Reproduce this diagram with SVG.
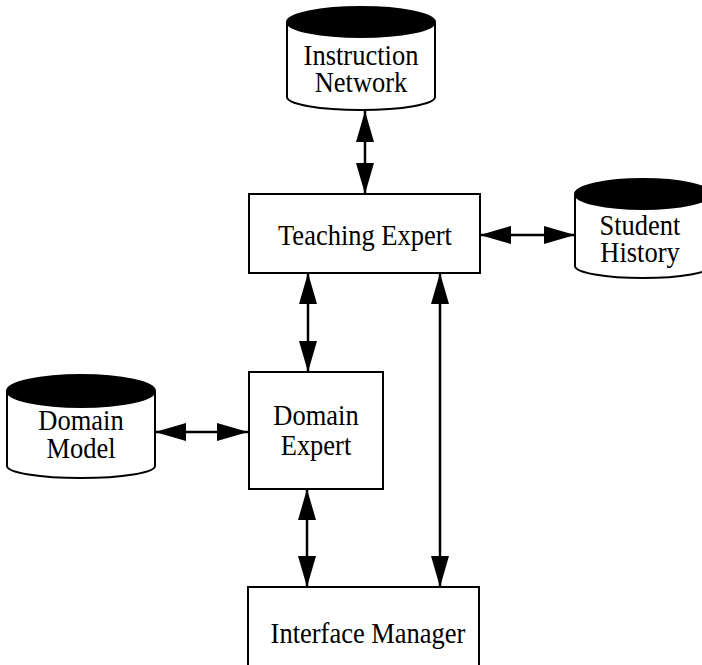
<svg xmlns="http://www.w3.org/2000/svg" width="702" height="665" viewBox="0 0 702 665">
<style>
.box{fill:#fff;stroke:#000;stroke-width:2}
.cyl{fill:#fff;stroke:#000;stroke-width:2}
.top{fill:#000;stroke:#000;stroke-width:2}
.t{font-family:"Liberation Serif","Times New Roman",serif;font-size:26.5px;fill:#000;text-anchor:middle}
.c{stroke:#000;stroke-width:2.5;fill:none;marker-start:url(#a);marker-end:url(#a)}
</style>
<defs>
<marker id="a" viewBox="0 0 31 18" refX="31" refY="9" markerWidth="31" markerHeight="18" markerUnits="userSpaceOnUse" orient="auto-start-reverse">
<path d="M0,0 L31,9 L0,18 Z" fill="#000"/>
</marker>
</defs>
<rect width="702" height="665" fill="#fff"/>
<g id="connectors">
<line class="c" x1="365" y1="111" x2="365" y2="194"/>
<line class="c" x1="480" y1="235" x2="575" y2="235"/>
<line class="c" x1="308" y1="273" x2="308" y2="372"/>
<line class="c" x1="155" y1="432" x2="248" y2="432"/>
<line class="c" x1="307" y1="489" x2="307" y2="587"/>
<line class="c" x1="440" y1="273" x2="440" y2="587"/>
</g>
<g id="instruction-network">
<path class="cyl" d="M287,22 L287,97 A74,13 0 0 0 435,97 L435,22"/>
<ellipse class="top" cx="361" cy="22" rx="74" ry="15"/>
<text class="t" transform="translate(361,65) scale(1,1.1)">Instruction</text>
<text class="t" transform="translate(361,92) scale(1,1.1)">Network</text>
</g>
<g id="teaching-expert">
<rect class="box" x="249" y="194" width="231" height="79"/>
<text class="t" transform="translate(365,245) scale(1,1.1)">Teaching Expert</text>
</g>
<g id="student-history">
<path class="cyl" d="M575,194 L575,266 A68,12 0 0 0 711,266 L711,194"/>
<ellipse class="top" cx="643" cy="194" rx="68" ry="15"/>
<text class="t" transform="translate(640,235) scale(1,1.1)">Student</text>
<text class="t" transform="translate(640,262) scale(1,1.1)">History</text>
</g>
<g id="domain-model">
<path class="cyl" d="M7,391 L7,466 A74,12 0 0 0 155,466 L155,391"/>
<ellipse class="top" cx="81" cy="391" rx="74" ry="16"/>
<text class="t" transform="translate(81,430) scale(1,1.1)">Domain</text>
<text class="t" transform="translate(81,458) scale(1,1.1)">Model</text>
</g>
<g id="domain-expert">
<rect class="box" x="249" y="372" width="134" height="117"/>
<text class="t" transform="translate(316,425) scale(1,1.1)">Domain</text>
<text class="t" transform="translate(316,455) scale(1,1.1)">Expert</text>
</g>
<g id="interface-manager">
<rect class="box" x="248" y="587" width="231" height="90"/>
<text class="t" transform="translate(368,643) scale(1,1.1)">Interface Manager</text>
</g>
</svg>
